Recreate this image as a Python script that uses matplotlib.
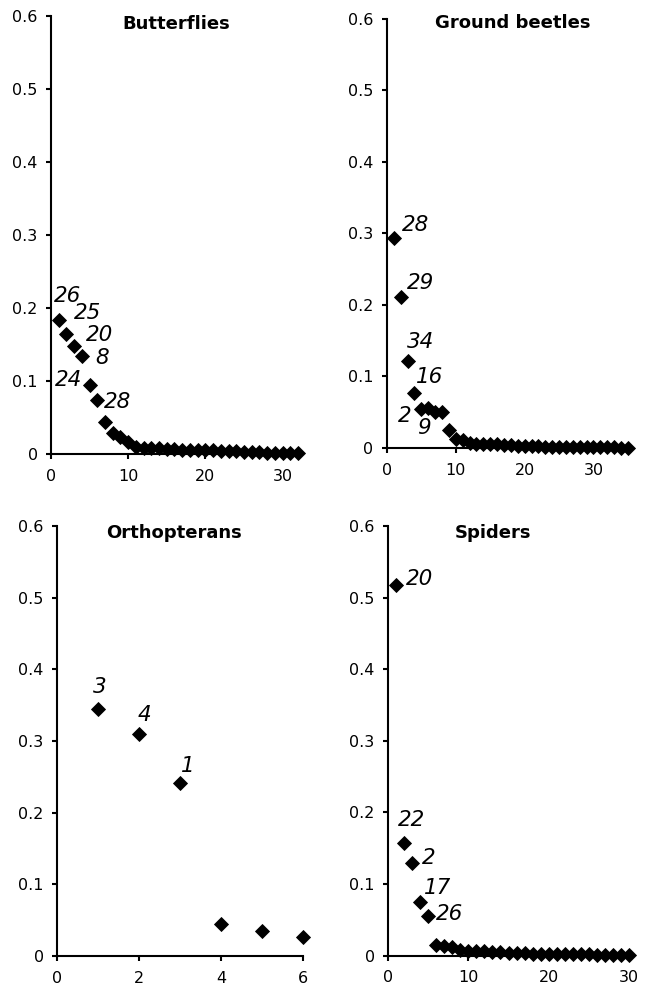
""" Rank plots of relative contribution per taxon group (four panels). """

import matplotlib
matplotlib.use("Agg")
import matplotlib.pyplot as plt
from matplotlib.ticker import FuncFormatter

# --- data ---
butterfly_values = [0.183, 0.165, 0.148, 0.134, 0.094, 0.074, 0.044, 0.029, 0.024, 0.016,
                    0.010, 0.008, 0.008, 0.008, 0.007, 0.007, 0.006, 0.006, 0.006, 0.005,
                    0.005, 0.004, 0.004, 0.004, 0.003, 0.003, 0.003, 0.002, 0.002, 0.002,
                    0.001, 0.001]
butterfly_labels = ["26", "25", "20", "8", "24", "28"]

beetle_values = [0.294, 0.211, 0.122, 0.077, 0.055, 0.056, 0.050, 0.050, 0.025, 0.012,
                 0.011, 0.007, 0.006, 0.006, 0.005, 0.005, 0.004, 0.004, 0.003, 0.003,
                 0.003, 0.003, 0.002, 0.002, 0.002, 0.002, 0.002, 0.001, 0.001, 0.001,
                 0.001, 0.001, 0.001, 0.000, 0.000]
beetle_labels = ["28", "29", "34", "16", "2", "9"]

orthopteran_values = [0.345, 0.310, 0.242, 0.044, 0.035, 0.026]
orthopteran_labels = ["3", "4", "1"]

spider_values = [0.518, 0.158, 0.130, 0.075, 0.056, 0.015, 0.014, 0.012, 0.008, 0.007,
                 0.007, 0.006, 0.005, 0.005, 0.004, 0.004, 0.004, 0.003, 0.003, 0.003,
                 0.003, 0.002, 0.002, 0.002, 0.002, 0.001, 0.001, 0.001, 0.001, 0.001]
spider_labels = ["20", "22", "2", "17", "26"]

titles = ["Butterflies", "Ground beetles", "Orthopterans", "Spiders"]
x_ticks = [[0, 10, 20, 30], [0, 10, 20, 30], [0, 2, 4, 6], [0, 10, 20, 30]]
y_ticks = [0, 0.1, 0.2, 0.3, 0.4, 0.5, 0.6]

# --- layout / styling ---
panel_rects = [
    [0.0788, 0.5423, 0.3818, 0.4415],
    [0.5980, 0.5484, 0.3725, 0.4325],
    [0.0881, 0.0363, 0.3802, 0.4335],
    [0.5997, 0.0366, 0.3725, 0.4332],
]
title_x = [0.506, 0.521, 0.476, 0.434]
title_y = [0.982, 0.990, 0.984, 0.984]

# label offsets in pixels (dx, dy) from the labelled point
label_offsets = [
    [(-5, 24), (7, 21), (12, 11), (13, -2), (-35, 5), (7, -2)],
    [(8, 13), (6, 14), (-1, 19), (2, 16), (-23, -7), (-11, -20)],
    [(-5, 22), (-1, 19), (1, 17)],
    [(10, 6), (-6, 23), (10, 5), (4, 14), (8, 2)],
]
label_points = [
    [0, 1, 2, 3, 4, 5],
    [0, 1, 2, 3, 4, 5],
    [0, 1, 2],
    [0, 1, 2, 3, 4],
]

plt.rcParams['font.family'] = ['DejaVu Sans']


def y_fmt(v, pos):
    return "0" if abs(v) < 1e-9 else "%.1f" % v


def draw_panel(ax, values, labels, title, ticks, offsets, points, tx, ty):
    ranks = list(range(1, len(values) + 1))
    ax.plot(ranks, values, linestyle='none', marker='D', markersize=7.2,
            color='black', markeredgewidth=0.6, clip_on=False, zorder=3)

    for lab, idx, (dx, dy) in zip(labels, points, offsets):
        ax.annotate(lab, (ranks[idx], values[idx]), xytext=(dx, dy),
                    textcoords='offset pixels', ha='left', va='center',
                    fontsize=15.5, fontstyle='italic')

    ax.set_xlim(0, len(values))
    ax.set_ylim(0, 0.6)
    ax.set_xticks(ticks)
    ax.set_yticks(y_ticks)
    ax.yaxis.set_major_formatter(FuncFormatter(y_fmt))

    for side in ['top', 'right']:
        ax.spines[side].set_visible(False)
    for side in ['left', 'bottom']:
        ax.spines[side].set_linewidth(1.5)
        ax.spines[side].set_zorder(2)
    ax.tick_params(axis='both', direction='out', length=3.6, width=1.5, labelsize=11.5)
    ax.tick_params(axis='x', pad=7)
    ax.tick_params(axis='y', pad=6)

    ax.text(tx, ty, title, transform=ax.transAxes, ha='center', va='center',
            fontsize=13, fontweight='bold')


fig = plt.figure(figsize=(6.47, 9.92), dpi=100)

all_values = [butterfly_values, beetle_values, orthopteran_values, spider_values]
all_labels = [butterfly_labels, beetle_labels, orthopteran_labels, spider_labels]

for i in range(4):
    ax = fig.add_axes(panel_rects[i])
    draw_panel(ax, all_values[i], all_labels[i], titles[i], x_ticks[i],
               label_offsets[i], label_points[i], title_x[i], title_y[i])

fig.savefig("out.png", dpi=100)
plt.close(fig)
